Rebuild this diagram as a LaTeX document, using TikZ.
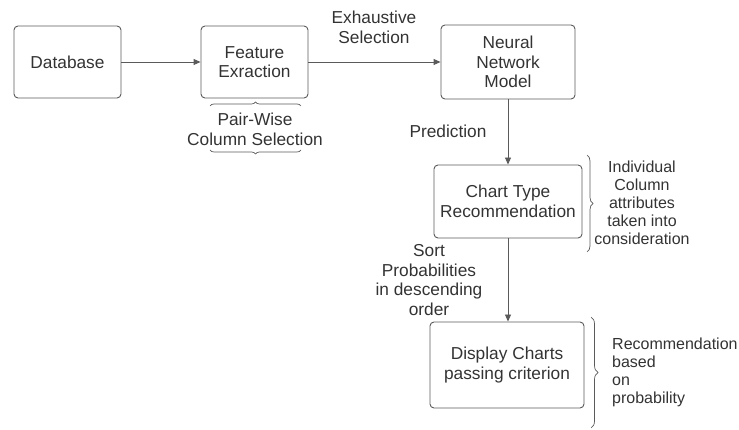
\documentclass[tikz,border=0pt]{standalone}
\usepackage{fontspec}
\setmainfont{Liberation Sans}
\usetikzlibrary{arrows.meta,decorations.pathreplacing}
\definecolor{linegray}{HTML}{5A5A5A}
\definecolor{textgray}{HTML}{333333}
\begin{document}
\begin{tikzpicture}[x=1pt,y=-1pt,
  every node/.style={font=\fontsize{17.3}{19.5}\selectfont, text=textgray},
  stepbox/.style={draw=linegray, line width=0.9pt, rounded corners=4pt,
    align=center, inner sep=0pt},
  lbl/.style={align=center, inner sep=0pt},
  note/.style={inner sep=0pt, font=\fontsize{16}{18}\selectfont},
  flow/.style={draw=linegray, line width=0.9pt,
    -{Triangle[length=7pt,width=6pt]}},
  curly/.style={draw=linegray, line width=0.7pt,
    decorate, decoration={brace, amplitude=#1}},
]
\useasboundingbox (0,0) rectangle (739,430);

% process boxes
\node[stepbox, minimum width=107, minimum height=72] (db) at (67.5,62) {Database};
\node[stepbox, minimum width=107, minimum height=72] (fe) at (254.5,62) {Feature\\Exraction};
\node[stepbox, minimum width=134, minimum height=74] (nn) at (508,62) {Neural\\Network\\Model};
\node[stepbox, minimum width=148, minimum height=73] (ct) at (508,201.5) {Chart Type\\Recommendation};
\node[stepbox, minimum width=154, minimum height=86] (dc) at (507,365) {Display Charts\\passing criterion};

% flow arrows
\draw[flow] (db) -- (fe);
\draw[flow] (fe) -- (nn);
\draw[flow] (nn) -- (ct);
\draw[flow] (ct.south) -- (ct.south |- dc.north);

% edge labels
\node[lbl] (exh) at (374,27.5) {Exhaustive\\Selection};
\node[lbl] (pred) at (448,131) {Prediction};
\node[lbl] (sort) at (429,280) {Sort\\Probabilities\\in descending\\order};

% annotation texts
\node[lbl] (pair) at (255,129.5) {Pair-Wise\\Column Selection};
\node[note, align=center] (indiv) at (642,203) {Individual\\Column\\attributes\\taken into\\consideration};
\node[note, align=left, anchor=west] (reco) at (612,372) {Recommendation\\based\\on\\probability};

% brace end points
\coordinate (pbTl) at (210,106);
\coordinate (pbTr) at (301,106);
\coordinate (pbBl) at (210,150);
\coordinate (pbBr) at (301,150);
\coordinate (ctBt) at (587,155);
\coordinate (ctBb) at (587,252);
\coordinate (dcBt) at (591,317);
\coordinate (dcBb) at (591,428);

% braces
\draw[curly=4pt] (pbTl) -- (pbTr);
\draw[curly=4pt] (pbBr) -- (pbBl);
\draw[curly=6pt] (ctBt) -- (ctBb);
\draw[curly=7pt] (dcBt) -- (dcBb);
\end{tikzpicture}
\end{document}
